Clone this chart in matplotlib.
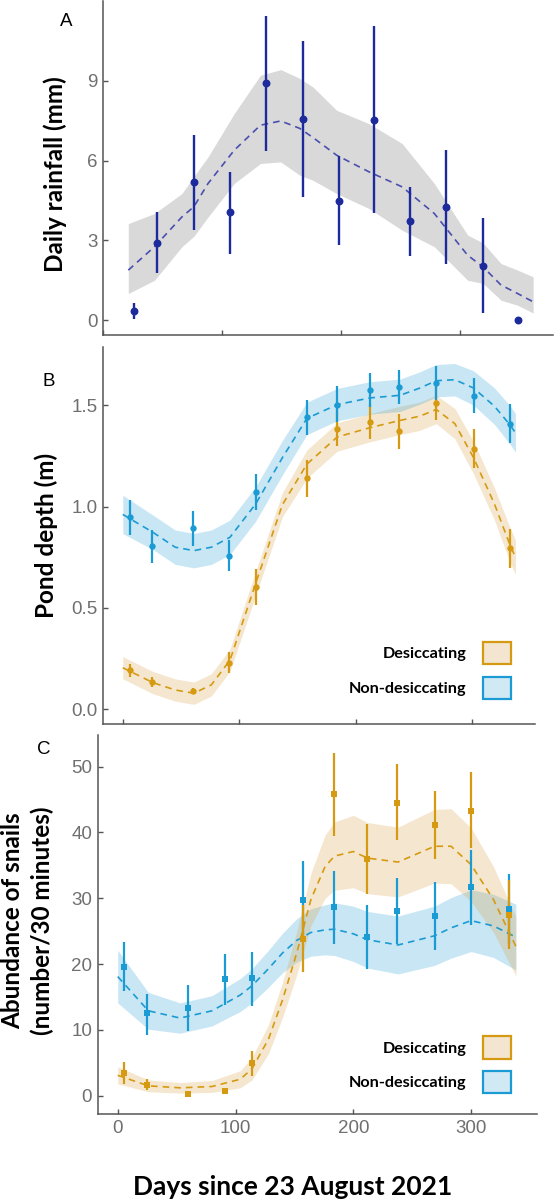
import matplotlib
matplotlib.use("Agg")
import matplotlib.pyplot as plt
from matplotlib.patches import Patch
import numpy as np

# ==========================================
# DATA
# ==========================================
# Panel A - daily rainfall, monthly means with error bars
rain_day = [26, 45, 76, 106, 137, 168, 198, 227, 258, 288, 319, 348]
rain_mean = [0.34, 2.9, 5.18, 4.05, 8.9, 7.57, 4.48, 7.52, 3.71, 4.25, 2.04, 0.0]
rain_lo = [0.03, 1.78, 3.38, 2.5, 6.36, 4.64, 2.82, 4.01, 2.41, 2.11, 0.25, 0.0]
rain_hi = [0.65, 4.05, 6.95, 5.56, 11.44, 10.5, 6.18, 11.05, 4.99, 6.39, 3.85, 0.0]

rain_fit_day = [21, 43, 66, 76, 88, 110, 132, 149, 165, 176, 196, 223, 251, 278, 306, 319, 334, 348, 361]
rain_fit = [1.88, 2.76, 3.88, 4.26, 5.14, 6.39, 7.33, 7.49, 7.21, 6.87, 6.2, 5.58, 5.01, 4.01,
            2.44, 2.0, 1.32, 1.0, 0.69]
rain_fit_lo = [1.0, 1.5, 2.76, 3.15, 3.88, 5.14, 5.89, 5.95, 5.45, 5.26, 4.76, 4.2, 3.38, 2.76,
               1.5, 1.38, 0.75, 0.56, 0.27]
rain_fit_hi = [3.63, 4.01, 4.76, 5.4, 6.14, 7.77, 9.21, 9.42, 9.09, 8.77, 7.89, 7.39, 6.64, 5.14,
               3.2, 2.9, 2.13, 1.88, 1.63]

# Panel B - pond depth
depth_day = [6, 25, 60, 91, 114, 158, 184, 212, 237, 269, 301, 332]
depth_des = [0.193, 0.136, 0.09, 0.229, 0.603, 1.144, 1.386, 1.419, 1.373, 1.512, 1.286, 0.795]
depth_des_lo = [0.157, 0.108, 0.074, 0.177, 0.513, 1.05, 1.30, 1.332, 1.283, 1.426, 1.193, 0.698]
depth_des_hi = [0.221, 0.16, 0.106, 0.283, 0.693, 1.229, 1.476, 1.507, 1.458, 1.603, 1.382, 0.89]
depth_non = [0.95, 0.804, 0.893, 0.757, 1.072, 1.442, 1.504, 1.578, 1.591, 1.611, 1.549, 1.409]
depth_non_lo = [0.862, 0.721, 0.808, 0.681, 0.983, 1.353, 1.419, 1.491, 1.507, 1.529, 1.463, 1.316]
depth_non_hi = [1.032, 0.885, 0.98, 0.836, 1.16, 1.529, 1.594, 1.66, 1.676, 1.693, 1.635, 1.507]

depth_fit_day = [0, 26, 45, 61, 76, 92, 114, 137, 158, 184, 212, 238, 255, 269, 285, 301, 319, 332, 337]
depth_fit_des = [0.205, 0.131, 0.095, 0.079, 0.12, 0.242, 0.62, 1.01, 1.21, 1.344, 1.39, 1.426,
                 1.447, 1.48, 1.41, 1.242, 1.013, 0.816, 0.75]
depth_fit_des_se = [0.055, 0.055, 0.055, 0.055, 0.055, 0.055, 0.06, 0.06, 0.07, 0.07, 0.07, 0.07,
                    0.07, 0.07, 0.075, 0.08, 0.08, 0.085, 0.085]
depth_fit_non = [0.962, 0.873, 0.80, 0.783, 0.80, 0.849, 1.013, 1.242, 1.436, 1.504, 1.537, 1.55,
                 1.586, 1.622, 1.627, 1.586, 1.496, 1.406, 1.365]
depth_fit_non_se = [0.095, 0.085, 0.085, 0.085, 0.085, 0.085, 0.085, 0.085, 0.08, 0.08, 0.08, 0.08,
                    0.08, 0.08, 0.08, 0.085, 0.09, 0.095, 0.095]

# Panel C - snail abundance
snail_day = [5, 25, 60, 91, 114, 157, 184, 212, 237, 269, 300, 332]
snail_des = [3.5, 1.67, 0.25, 0.76, 4.9, 23.8, 45.9, 35.9, 44.5, 41.1, 43.3, 27.5]
snail_des_lo = [1.77, 0.9, 0.25, 0.76, 3.0, 18.8, 39.5, 30.6, 38.8, 35.9, 37.6, 22.3]
snail_des_hi = [5.15, 2.5, 0.25, 0.76, 6.8, 28.9, 52.1, 41.3, 50.4, 46.3, 49.2, 32.8]
snail_non = [19.6, 12.5, 13.3, 17.7, 17.9, 29.7, 28.7, 24.1, 28.0, 27.3, 31.7, 28.4]
snail_non_lo = [15.9, 9.2, 9.85, 13.8, 13.7, 24.0, 23.1, 19.3, 23.0, 22.1, 26.0, 23.0]
snail_non_hi = [23.4, 15.5, 16.8, 21.6, 21.9, 35.6, 34.2, 28.9, 33.1, 32.4, 37.4, 33.7]

snail_fit_day = [0, 26, 53, 80, 104, 114, 128, 140, 152, 164, 176, 184, 200, 212, 238, 269, 283, 300, 319, 338]
snail_fit_des = [3.1, 1.5, 1.2, 1.4, 2.5, 4.1, 8.6, 14.6, 21.7, 29.8, 34.8, 36.4, 37.1, 36.1, 35.5,
                 37.9, 37.9, 35.1, 29.8, 22.7]
snail_fit_des_se = [1.3, 0.9, 0.8, 0.9, 1.3, 1.7, 2.2, 2.7, 3.3, 4.0, 4.8, 5.2, 5.5, 5.4, 5.3,
                    5.6, 5.7, 5.6, 5.0, 4.5]
snail_fit_non = [18.1, 12.9, 11.8, 12.9, 15.3, 16.7, 19.3, 21.7, 23.6, 24.8, 25.2, 25.3, 24.6, 23.7,
                 22.9, 24.3, 25.5, 26.6, 25.8, 24.1]
snail_fit_non_se = [4.0, 2.8, 2.3, 2.3, 2.5, 2.6, 2.8, 3.0, 3.3, 3.6, 3.8, 4.0, 4.2, 4.3, 4.4,
                    4.5, 4.6, 4.7, 4.8, 5.0]

# ==========================================
# STYLE
# ==========================================
plt.rcParams['font.family'] = ['Liberation Sans', 'DejaVu Sans']

NAVY = "#1c2a9c"
NAVY_LINE = "#4a4fae"
ORANGE = "#d69a12"
BLUE = "#1b9bd4"
GREY_BAND = "#d9d9d9"
TICK_GREY = "#6f6f6f"
SPINE_GREY = "#555555"
BOLD_FONT = ["Lato", "DejaVu Sans"]
W, H = 554.0, 1200.0


def px_axes(left, right, top, bottom):
    # axes rectangle from pixel edges of the reference
    return [left / W, 1 - bottom / H, (right - left) / W, (bottom - top) / H]


def style_axis(ax, xlim, ylim, yticks, ytick_labels, show_xlabels):
    ax.set_xlim(xlim)
    ax.set_ylim(ylim)
    for s in ["top", "right"]:
        ax.spines[s].set_visible(False)
    for s in ["left", "bottom"]:
        ax.spines[s].set_color(SPINE_GREY)
        ax.spines[s].set_linewidth(1.1)
    ax.set_xticks([0, 100, 200, 300])
    ax.set_yticks(yticks)
    ax.set_yticklabels(ytick_labels)
    if not show_xlabels:
        ax.set_xticklabels([])
    ax.tick_params(axis="both", direction="in", colors=SPINE_GREY, labelcolor=TICK_GREY,
                   labelsize=13.5, length=3.5, width=1.0)
    ax.tick_params(axis="x", pad=5)
    ax.tick_params(axis="y", pad=4)


def draw_fit(ax, day, mid, se, color, fill):
    mid = np.array(mid)
    se = np.array(se)
    ax.fill_between(day, mid - se, mid + se, color=fill, alpha=0.25, lw=0)
    ax.plot(day, mid, color=color, lw=1.2, dashes=(4, 3))


def draw_points(ax, day, mean, lo, hi, color, marker, ms, lw):
    mean = np.array(mean)
    yerr = [mean - np.array(lo), np.array(hi) - mean]
    ax.errorbar(day, mean, yerr=yerr, fmt=marker, color=color, ms=ms,
                elinewidth=lw, capsize=0, mew=0, zorder=4)


def add_legend(ax, anchor):
    handles = [Patch(facecolor="#f3e5cf", edgecolor=ORANGE, lw=1.6, label="Desiccating"),
               Patch(facecolor="#d1e8f5", edgecolor=BLUE, lw=1.6, label="Non-desiccating")]
    ax.legend(handles=handles, markerfirst=False, frameon=False, loc="lower right",
              bbox_to_anchor=anchor, borderaxespad=0, borderpad=0,
              handlelength=1.75, handleheight=1.75, labelspacing=0.75, handletextpad=1.0,
              prop={"family": BOLD_FONT, "weight": "bold", "size": 11.7})


fig = plt.figure(figsize=(5.54, 12), dpi=100)

# ---------- Panel A ----------
axA = fig.add_axes(px_axes(103.3, 553, 1, 334.5))
axA.fill_between(rain_fit_day, rain_fit_lo, rain_fit_hi, color=GREY_BAND, lw=0)
axA.plot(rain_fit_day, rain_fit, color=NAVY_LINE, lw=1.2, dashes=(4, 3))
draw_points(axA, rain_day, rain_mean, rain_lo, rain_hi, NAVY, "o", 5.7, 1.7)
style_axis(axA, (4.7, 377.7), (-0.54, 12.0), [0, 3, 6, 9], ["0", "3", "6", "9"], False)

# ---------- Panel B ----------
axB = fig.add_axes(px_axes(103.3, 534.8, 346.7, 724))
draw_fit(axB, depth_fit_day, depth_fit_des, depth_fit_des_se, ORANGE, "#d9a040")
draw_fit(axB, depth_fit_day, depth_fit_non, depth_fit_non_se, BLUE, "#2a9fd6")
draw_points(axB, depth_day, depth_des, depth_des_lo, depth_des_hi, ORANGE, "o", 4.6, 1.6)
draw_points(axB, depth_day, depth_non, depth_non_lo, depth_non_hi, BLUE, "o", 4.6, 1.6)
style_axis(axB, (-16.7, 353.6), (-0.073, 1.79), [0, 0.5, 1.0, 1.5],
           ["0.0", "0.5", "1.0", "1.5"], False)
add_legend(axB, (0.9449, 0.0663))

# ---------- Panel C ----------
axC = fig.add_axes(px_axes(97.7, 536.7, 735, 1113.5))
draw_fit(axC, snail_fit_day, snail_fit_non, snail_fit_non_se, BLUE, "#2a9fd6")
draw_fit(axC, snail_fit_day, snail_fit_des, snail_fit_des_se, ORANGE, "#d9a040")
draw_points(axC, snail_day, snail_non, snail_non_lo, snail_non_hi, BLUE, "s", 4.6, 1.6)
draw_points(axC, snail_day, snail_des, snail_des_lo, snail_des_hi, ORANGE, "s", 4.6, 1.6)
style_axis(axC, (-17, 355.7), (-2.7, 54.8), [0, 10, 20, 30, 40, 50],
           ["0", "10", "20", "30", "40", "50"], True)
add_legend(axC, (0.9415, 0.0534))

# axis titles
ylab = dict(rotation=90, ha="center", va="center", family=BOLD_FONT, weight="bold", fontsize=17.5)
fig.text(55 / W, 1 - 174 / H, "Daily rainfall (mm)", **ylab)
fig.text(46.5 / W, 1 - 535 / H, "Pond depth (m)", **ylab)
fig.text(27.5 / W, 1 - 921 / H, "Abundance of snails\n(number/30 minutes)", linespacing=1.35, **ylab)
fig.text(293 / W, 1 - 1187 / H, "Days since 23 August 2021", ha="center", va="center",
         family=BOLD_FONT, weight="bold", fontsize=19)

# panel letters
fig.text(66.7 / W, 1 - 22 / H, "A", ha="center", va="center", fontsize=13.5)
fig.text(48.3 / W, 1 - 382 / H, "B", ha="center", va="center", fontsize=13.5)
fig.text(44.2 / W, 1 - 749 / H, "C", ha="center", va="center", fontsize=13.5)

fig.savefig("out.png", dpi=100)
